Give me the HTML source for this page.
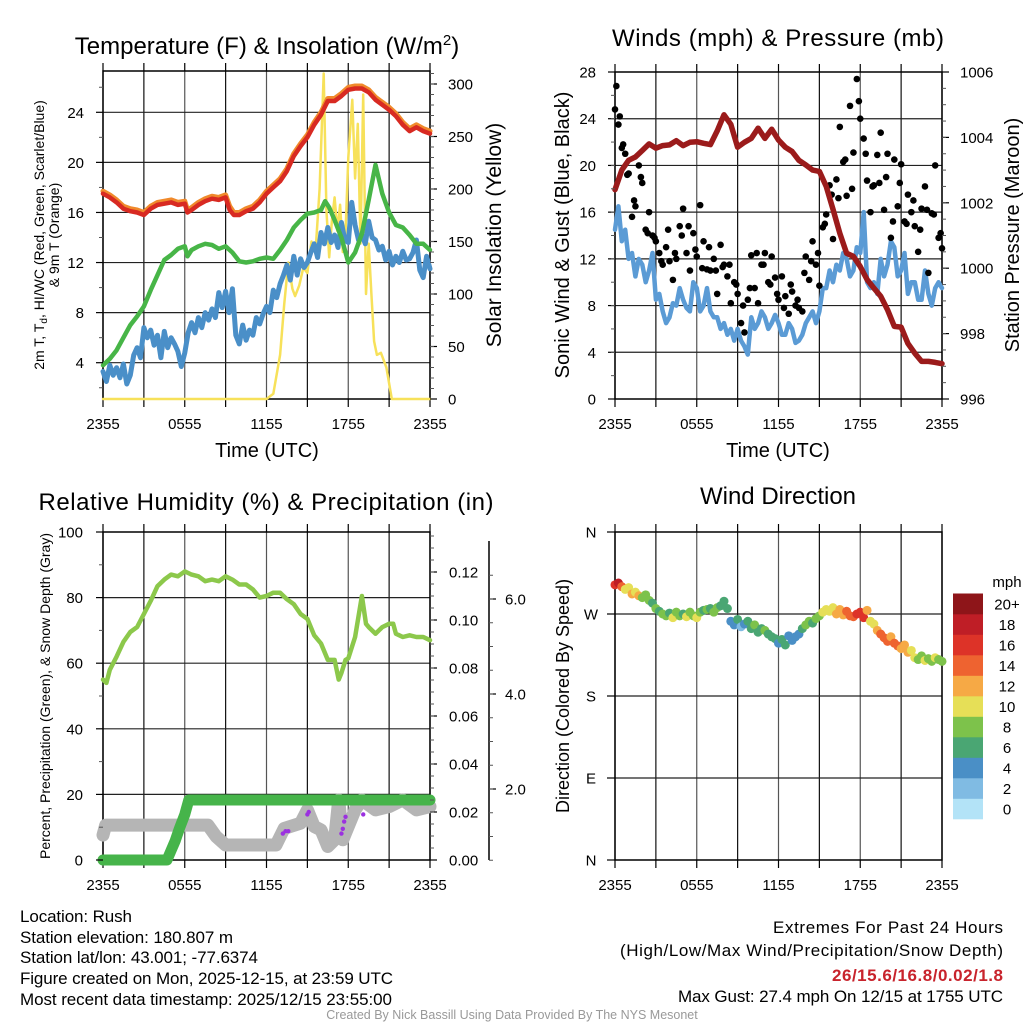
<!DOCTYPE html>
<html><head><meta charset="utf-8">
<style>
html,body{margin:0;padding:0;background:#fff;}
svg{display:block;font-family:"Liberation Sans",Arial,sans-serif;}
</style></head>
<body>
<svg id="fig" width="1024" height="1024" viewBox="0 0 1024 1024" xmlns="http://www.w3.org/2000/svg">
<rect width="1024" height="1024" fill="#fff"/>
<!-- Titles -->
<text x="267" y="54" font-size="24" text-anchor="middle">Temperature (F) &amp; Insolation (W/m<tspan dy="-9" font-size="15">2</tspan><tspan dy="9">)</tspan></text>
<text x="778" y="46" font-size="24" text-anchor="middle" textLength="332">Winds (mph) &amp; Pressure (mb)</text>
<text x="266" y="510" font-size="24" text-anchor="middle" textLength="455">Relative Humidity (%) &amp; Precipitation (in)</text>
<text x="778" y="504" font-size="24" text-anchor="middle">Wind Direction</text>
<!-- axis titles -->
<text transform="translate(44,235) rotate(-90)" font-size="14" text-anchor="middle">2m T, T<tspan dy="3" font-size="10">d</tspan><tspan dy="-3">, HI/WC (Red, Green, Scarlet/Blue)</tspan></text>
<text transform="translate(59,235) rotate(-90)" font-size="14" text-anchor="middle">&amp; 9m T (Orange)</text>
<text transform="translate(501,235) rotate(-90)" font-size="21" text-anchor="middle">Solar Insolation (Yellow)</text>
<text x="267" y="457" font-size="20" text-anchor="middle">Time (UTC)</text>
<text transform="translate(569,235) rotate(-90)" font-size="20" text-anchor="middle">Sonic Wind &amp; Gust (Blue, Black)</text>
<text transform="translate(1019,235) rotate(-90)" font-size="20" text-anchor="middle">Station Pressure (Maroon)</text>
<text x="778" y="457" font-size="20" text-anchor="middle">Time (UTC)</text>
<text transform="translate(50,696) rotate(-90)" font-size="14" text-anchor="middle">Percent, Precipitation (Green), &amp; Snow Depth (Gray)</text>
<text transform="translate(569,696) rotate(-90)" font-size="18" text-anchor="middle">Direction (Colored By Speed)</text>
<!-- info text -->
<g font-size="17">
<text x="20" y="922" textLength="112">Location: Rush</text>
<text x="20" y="943" textLength="213">Station elevation: 180.807 m</text>
<text x="20" y="963" textLength="238">Station lat/lon: 43.001; -77.6374</text>
<text x="20" y="984" textLength="373">Figure created on Mon, 2025-12-15, at 23:59 UTC</text>
<text x="20" y="1005" textLength="372">Most recent data timestamp: 2025/12/15 23:55:00</text>
</g>
<g font-size="17">
<text x="773" y="933" textLength="230">Extremes For Past 24 Hours</text>
<text x="620" y="956" textLength="383">(High/Low/Max Wind/Precipitation/Snow Depth)</text>
<text x="832" y="981" textLength="171" font-weight="bold" fill="#c8232c">26/15.6/16.8/0.02/1.8</text>
<text x="678" y="1002" textLength="325">Max Gust: 27.4 mph On 12/15 at 1755 UTC</text>
</g>
<text x="512" y="1019" font-size="12.5" fill="#999" text-anchor="middle">Created By Nick Bassill Using Data Provided By The NYS Mesonet</text>
<g id="plots"></g>
</svg>
<script>
// ---- Panel 1 data: temperature (hours since 2355) ----
const tempHours = [0,0.5,1,1.5,2,2.5,3,3.5,4,4.5,5,5.5,6,6.2,6.5,7,7.5,8,8.5,9,9.3,9.6,10,10.5,11,11.5,12,12.5,13,13.5,14,14.5,15,15.5,16,16.5,17,17.5,18,18.5,19,19.5,20,20.5,21,21.5,22,22.5,23,23.5,24];
const tempRed   = [17.5,17.2,16.8,16.3,16.1,16.0,15.8,16.3,16.6,16.7,16.8,16.6,16.7,16.0,16.2,16.6,16.9,17.1,17.0,17.2,16.2,15.8,15.8,16.1,16.3,16.8,17.5,18.0,18.5,19.3,20.5,21.3,22.0,23.0,23.8,24.9,24.9,25.3,25.8,25.9,25.9,25.6,25.0,24.6,24.2,23.7,23.0,22.5,22.8,22.5,22.3];
const tempOrange= [17.7,17.4,17.0,16.5,16.3,16.2,16.0,16.5,16.8,16.9,17.0,16.8,16.9,16.2,16.4,16.8,17.1,17.3,17.2,17.4,16.5,16.0,16.0,16.3,16.5,17.0,17.7,18.2,18.7,19.5,20.7,21.5,22.2,23.2,24.0,25.1,25.1,25.5,26.0,26.1,26.1,25.8,25.2,24.8,24.4,23.9,23.2,22.7,23.0,22.7,22.5];
const dewHours = [0,0.5,1,1.5,2,2.5,3,3.5,4,4.5,5,5.5,6,6.2,6.5,7,7.5,8,8.5,9,9.5,10,10.5,11,11.5,12,12.5,13,13.5,14,14.5,15,15.5,16,16.3,16.6,17,17.5,18,18.5,19,19.5,20,20.5,21,21.5,22,22.5,23,23.5,24];
const dewGreen = [3.8,4.3,5.0,6.0,7.0,7.7,8.5,9.8,11.0,12.2,12.6,13.1,13.3,12.5,13.0,13.3,13.5,13.4,13.1,13.3,12.8,12.1,12.0,12.1,12.3,12.4,12.3,13.0,13.8,14.8,15.4,15.9,16.0,16.2,16.9,16.4,15.4,14.0,12.0,12.8,14.3,17.0,19.8,17.5,16.0,15.0,14.8,14.2,13.5,13.5,13.0];
const blueHours = [0,0.25,0.5,0.75,1,1.25,1.5,1.75,2,2.25,2.5,2.75,3,3.25,3.5,3.75,4,4.25,4.5,4.75,5,5.25,5.5,5.75,6,6.25,6.5,6.75,7,7.25,7.5,7.75,8,8.25,8.5,8.75,9,9.25,9.5,9.75,10,10.25,10.5,10.75,11,11.25,11.5,11.75,12,12.25,12.5,12.75,13,13.25,13.5,13.75,14,14.25,14.5,14.75,15,15.25,15.5,15.75,16,16.25,16.5,16.75,17,17.25,17.5,17.75,18,18.25,18.5,18.75,19,19.25,19.5,19.75,20,20.25,20.5,20.75,21,21.25,21.5,21.75,22,22.25,22.5,22.75,23,23.25,23.5,23.75,24];
const blueTemp = [3.3,2.5,3.8,3.0,3.6,2.8,3.9,2.3,3.0,4.6,5.2,4.4,6.8,6.0,6.6,5.4,6.2,4.4,6.5,5.2,6.0,5.5,4.9,3.7,4.8,6.4,7.2,6.4,7.6,6.8,8.0,7.4,8.3,7.6,9.6,8.4,9.7,8.0,9.9,6.2,5.5,7.0,5.8,6.6,6.2,7.6,7.1,7.9,8.5,8.0,9.8,9.2,10.3,11.0,11.8,10.6,12.5,11.0,12.3,11.6,12.0,12.8,13.5,12.4,14.4,13.5,14.8,13.6,14.2,13.2,15.2,13.8,13.6,16.8,15.0,13.8,14.2,13.5,15.3,14.0,13.8,13.0,13.3,12.2,12.9,11.8,12.5,12.0,12.9,12.2,12.3,12.8,13.8,11.4,10.8,12.5,11.5,12.9,12.1];
const solarHours = [0,12,12.5,13,13.3,13.6,13.9,14.1,14.4,14.7,15.0,15.3,15.6,15.9,16.2,16.4,16.6,16.8,17.0,17.2,17.4,17.6,17.8,18.0,18.3,18.5,18.7,18.9,19.1,19.3,19.5,19.7,19.9,20.1,20.4,20.8,21.2,21.6,22.0,24];
const solarVals  = [0,0,5,42,90,130,105,98,108,125,120,150,140,200,310,180,135,170,192,160,185,140,158,230,285,210,262,148,290,100,148,100,55,42,44,30,0,0,0,0];
// ---- Panel 2 data: wind & pressure ----
const presHours = [0,0.5,1,1.5,2,2.5,3,3.5,4,4.5,5,5.5,6,6.5,7,7.5,8,8.5,9,9.5,10,10.5,11,11.5,12,12.5,13,13.5,14,14.5,15,15.5,16,16.5,17,17.5,18,18.5,19,19.5,20,20.5,21,21.5,22,22.5,23,23.5,24];
const presVals  = [1002.4,1003.0,1003.3,1003.4,1003.6,1003.8,1003.67,1003.75,1003.77,1003.9,1003.75,1003.85,1003.87,1003.82,1003.78,1004.2,1004.69,1004.4,1003.7,1003.85,1003.97,1004.28,1003.97,1004.25,1003.92,1003.7,1003.57,1003.3,1003.16,1003.0,1002.96,1002.5,1001.8,1001.07,1000.46,1000.36,1000.05,999.65,999.39,999.14,998.73,998.22,998.2,997.7,997.4,997.15,997.15,997.12,997.08];
const windHours = blueHours;
const windVals = [14.5,16.5,13.5,14.5,12.0,12.5,10.5,12.0,11.5,10.0,11.0,12.5,8.5,9.0,7.5,6.5,7.0,8.2,8.0,9.5,8.5,7.8,7.5,10.0,9.5,7.5,8.0,9.5,7.5,7.0,7.0,6.0,6.5,5.5,6.0,5.0,6.0,5.0,4.5,3.8,7.0,6.0,6.5,7.5,7.0,6.0,6.5,7.2,6.5,5.5,5.5,6.5,6.0,4.8,5.0,5.5,6.5,7.0,7.5,6.5,7.5,9.5,9.5,11.0,10.0,11.5,11.0,12.5,12.0,10.5,11.0,13.0,12.5,16.0,10.0,9.5,10.0,9.0,12.0,10.5,11.5,13.5,13.0,10.5,11.0,12.5,9.0,10.0,10.0,8.5,8.5,11.0,9.0,8.0,9.5,10.0,9.5];
const gustHours = blueHours;
const gustVals = [24.8,23.5,21.5,21.0,19.3,15.6,16.5,20.0,18.5,14.5,16.0,14.0,13.5,12.5,11.5,13.0,11.8,10.2,12.0,14.8,16.3,12.5,11.0,14.2,12.2,16.6,13.5,11.1,11.0,12.0,9.0,13.2,11.5,10.5,8.2,10.0,9.0,6.5,5.7,8.5,12.3,9.5,8.2,11.5,12.5,10.0,12.2,10.4,8.5,10.5,8.8,7.3,9.2,8.0,7.8,7.5,12.2,10.2,13.5,11.5,9.7,14.7,15.8,18.3,13.7,18.8,23.3,20.3,17.4,25.1,21.1,27.4,24.0,22.3,18.7,16.0,18.3,20.9,22.8,16.2,21.0,13.8,20.5,16.5,20.1,15.2,17.5,16.0,14.8,12.6,16.3,18.2,10.8,15.9,20.0,13.8,12.9];
const gustHours2 = [0.1,0.35,0.6,0.9,1.4,1.9,2.4,2.9,3.4,3.9,4.4,4.9,5.4,5.9,6.4,6.9,7.4,7.9,8.4,8.9,9.4,9.9,10.4,10.9,11.4,11.9,12.4,12.9,13.4,13.9,14.4,14.9,15.4,15.9,16.4,16.9,17.4,17.9,18.4,18.9,19.4,19.9,20.4,20.9,21.4,21.9,22.4,22.9,23.4,23.9];
const gustVals2  = [26.8,24.2,21.8,19.2,17.0,19.0,14.2,13.8,11.8,14.5,12.5,14.0,14.8,12.8,11.2,13.0,11.0,11.3,11.5,9.8,8.0,9.5,12.5,11.5,9.8,9.0,7.8,9.8,8.5,10.8,11.8,12.5,15.0,17.5,17.2,20.5,18.0,25.5,21.0,18.2,18.5,19.0,15.2,18.5,15.0,17.0,14.5,16.2,15.8,14.2];
// ---- Panel 3 data: humidity, precip, snow ----
const rhHours = [0,0.25,0.5,1,1.5,2,2.5,3,3.5,4,4.5,5,5.5,6,6.5,7,7.5,8,8.5,9,9.5,10,10.5,11,11.5,12,12.5,13,13.5,14,14.5,15,15.5,16,16.5,17,17.3,17.5,17.8,18,18.5,19,19.3,19.5,20,20.5,21,21.3,21.5,22,22.5,23,23.5,24];
const rhVals  = [55,54,58,62,66.5,69.5,71,75,79,83.5,85.5,87,86.5,88,87,86.5,85,85.5,85,86.5,85.5,84,84,82.5,80,80.5,81.5,81.5,79.5,78,75,73.5,68.5,66,61,61,55,57,61,61.5,68,80.5,72,71,69,71,72,72,69,68,68.5,68,68,67];
const precipHours = [0,4.7,5.0,5.3,5.6,6.0,6.3,24];
const precipVals  = [0,0,0.004,0.008,0.013,0.019,0.025,0.025];
const snowHours = [0,0.2,0.5,7.7,8.3,9.0,10,12.7,13.3,14.5,15.0,15.5,16.0,16.5,17.0,17.3,17.6,18.5,19.0,20.0,21.0,22.0,23.0,24];
const snowVals  = [1.03,1.24,1.24,1.24,1.0,0.82,0.82,0.82,1.17,1.28,1.56,1.21,1.14,0.79,0.93,1.77,0.93,1.56,1.77,1.56,1.63,1.77,1.56,1.63];
const purpleHours = [13.2,13.4,13.6,15.0,15.1,17.5,17.6,17.7,17.8,19.1];
const purpleVals  = [0.011,0.012,0.012,0.019,0.020,0.011,0.013,0.016,0.018,0.019];
// ---- Panel 4 data: wind direction (degrees) & speed (mph), every 15 min ----
const dirDeg = [302,304,300,297,299,292,294,290,288,291,285,282,276,273,270,268,271,266,272,268,270,267,272,268,266,272,274,275,276,272,277,279,284,276,262,258,264,256,259,262,254,258,250,254,252,248,245,243,238,242,236,246,241,245,248,254,258,262,260,265,268,272,275,273,277,270,275,269,273,268,267,270,272,266,274,262,259,252,248,244,240,245,238,235,232,236,228,230,222,220,224,219,221,218,222,220,218];
const dirSpeed = [17,18,15,11,10,12,10,12,8,8,8,7,8,6,8,8,7,10,8,8,7,10,8,9,10,8,7,8,6,8,8,7,6,6,4,4,6,3,4,6,6,8,6,7,8,6,6,6,5,6,6,4,4,4,5,6,8,8,7,8,9,10,10,11,10,12,13,12,14,15,14,16,17,16,13,10,11,13,14,15,14,12,14,15,12,13,12,11,10,8,9,11,8,8,10,8,8];
const speedBins = ['0','2','4','6','8','10','12','14','16','18','20+'];
const speedColors = ['#b3e3f7','#80bbe3','#4a8fc6','#4aa673','#7dc24b','#e6df57','#f6a945','#ee6330','#dd3328','#bf1e26','#8e1519'];

const NS='http://www.w3.org/2000/svg';
const root=document.getElementById('plots');
function mk(tag,parent){const e=document.createElementNS(NS,tag);(parent||root).appendChild(e);return e;}
function sa(e,o){for(const k in o)e.setAttribute(k,o[k]);return e;}

const P1={l:103,r:430,t:71,b:399}, P2={l:615,r:942,t:72,b:399}, P3={l:103,r:430,t:532,b:860}, P4={l:615,r:942,t:532,b:860};
const xs=(P,h)=>P.l+(P.r-P.l)*h/24;
const y1L=v=>362.7-(v-4)*12.52, y1R=v=>399-v*1.05;
const y2L=v=>399-v*327/28, y2R=v=>399-(v-996)*32.7;
const y3L=v=>860-v*3.28, y3P=v=>860-v*2400, y3S=v=>884-v*47.5;
const y4=d=>532+(360-d)*328/360;

function grid(P,hy,name){
  const g=mk('g');
  
  
  for(let i=0;i<=8;i++){const x=P.l+(P.r-P.l)*i/8;
    const l=mk('line',g);sa(l,{x1:x,x2:x,y1:P.t,y2:P.b,stroke:(i%2?'#111':'#555'),'stroke-width':1.2});
    
    
    const t=mk('line',g);sa(t,{x1:x,x2:x,y1:P.b,y2:P.b+8,stroke:'#000','stroke-width':1.2});
    
    
    const t2=mk('line',g);sa(t2,{x1:x,x2:x,y1:P.t-8,y2:P.t,stroke:'#000','stroke-width':1.2});
    
    }
  hy.forEach(y=>{const l=mk('line',g);sa(l,{x1:P.l,x2:P.r,y1:y,y2:y,stroke:'#222','stroke-width':1.2});
    
    });
  const b=mk('rect',g);sa(b,{x:P.l,y:P.t,width:P.r-P.l,height:P.b-P.t,fill:'none',stroke:'#000','stroke-width':1.5});
  
  
  const labs=['2355','0555','1155','1755','2355'];
  labs.forEach((s,i)=>{const t=mk('text',g);sa(t,{x:P.l+(P.r-P.l)*i/4,y:P.b+30,'font-size':15,'text-anchor':'middle'});t.textContent=s;
    
    });
}
function yaxis(x,vals,fy,side,labelX,fmt,minor,name,len){
  const g=mk('g');
  
  
  const dir=side==='left'?-1:1;
  vals.forEach(v=>{const y=fy(v);const l=mk('line',g);sa(l,{x1:x,x2:x+dir*(len||7),y1:y,y2:y,stroke:'#000','stroke-width':1.2});
    
    
    const t=mk('text',g);sa(t,{x:labelX,y:y+5.5,'font-size':15,'text-anchor':side==='left'?'end':'start'});t.textContent=fmt(v);
    
    });
  minor.forEach(v=>{const y=fy(v);const l=mk('line',g);sa(l,{x1:x,x2:x+dir*4,y1:y,y2:y,stroke:'#555','stroke-width':1});
    
    });
}
function range(a,b,s){const r=[];for(let v=a;v<=b+1e-9;v+=s)r.push(+v.toFixed(4));return r;}
function line(P,hs,vs,fy,color,w,name,cap){
  const pts=hs.map((h,i)=>xs(P,h).toFixed(1)+','+fy(vs[i]).toFixed(1)).join(' ');
  const p=mk('polyline');sa(p,{points:pts,fill:'none',stroke:color,'stroke-width':w,'stroke-linejoin':'round','stroke-linecap':cap||'round'});
  
  
  return p;
}

// Panel 1
grid(P1,[4,8,12,16,20,24].map(y1L),'temperature-panel');
line(P1,solarHours,solarVals,y1R,'#f7e15a',2.5,'solar-insolation-line');
line(P1,blueHours,blueTemp,y1L,'#4a8fc8',5,'wind-chill-line');
line(P1,dewHours,dewGreen,y1L,'#47b547',4.5,'dewpoint-line');
line(P1,tempHours,tempOrange,y1L,'#f08a2c',5,'temp-9m-line');
line(P1,tempHours,tempRed,y1L,'#d82a22',4.5,'temp-2m-line');
yaxis(P1.l,[4,8,12,16,20,24],y1L,'left',84,v=>v,[2,6,10,14,18,22,26],'temperature-y-axis');
yaxis(P1.r,range(0,300,50),y1R,'right',448,v=>v,range(10,310,10),'insolation-y-axis');

// Panel 2
grid(P2,[4,8,12,16,20,24].map(y2L),'wind-panel');
line(P2,windHours,windVals,y2L,'#5b9bd5',4.5,'sonic-wind-line');
const gg=mk('g');


[[gustHours,gustVals],[gustHours2,gustVals2]].forEach(([hs,vs])=>hs.forEach((h,i)=>{
  const c=mk('circle',gg);sa(c,{cx:xs(P2,h),cy:y2L(vs[i]),r:3.3,fill:'#000'});
  
  }));
line(P2,presHours,presVals,y2R,'#9b1b1b',5.5,'station-pressure-line');
yaxis(P2.l,range(0,28,4),y2L,'left',596,v=>v,range(2,26,2),'wind-y-axis');
yaxis(P2.r,range(996,1006,2),y2R,'right',960,v=>v,range(996.5,1005.5,0.5),'pressure-y-axis');

// Panel 3
grid(P3,[20,40,60,80].map(y3L),'humidity-panel');
line(P3,snowHours,snowVals,y3S,'#b5b5b5',13,'snow-depth-line');
const pg=mk('g');


purpleHours.forEach((h,i)=>{const c=mk('circle',pg);sa(c,{cx:xs(P3,h),cy:y3P(purpleVals[i]),r:2.2,fill:'#9b30e0'});
  
  });
line(P3,precipHours,precipVals,y3P,'#46b44a',11,'precipitation-line');
line(P3,rhHours,rhVals,y3L,'#8cc84b',4.5,'relative-humidity-line');
yaxis(P3.l,range(0,100,20),y3L,'left',83,v=>v,range(10,90,20),'humidity-y-axis');
yaxis(P3.r,range(0,0.12,0.02),y3P,'right',449,v=>v.toFixed(2),range(0.005,0.135,0.005),'precip-y-axis');
const ax3=mk('line');sa(ax3,{x1:489,x2:489,y1:541,y2:860,stroke:'#000','stroke-width':1.5});


yaxis(489,[2,4,6],y3S,'right',505,v=>v.toFixed(1),range(0.5,6.5,0.5),'snow-depth-y-axis');

// Panel 4
grid(P4,[270,180,90].map(y4),'direction-panel');
const dg=mk('g');


dirDeg.forEach((d,i)=>{const h=i*0.25;const bin=Math.min(10,Math.floor(dirSpeed[i]/2));
  const c=mk('circle',dg);sa(c,{cx:xs(P4,h),cy:y4(d),r:4.5,fill:speedColors[bin]});
  
  });
['N','W','S','E','N'].forEach((s,i)=>{const y=532+82*i;
  const l=mk('line');sa(l,{x1:P4.l-8,x2:P4.l,y1:y,y2:y,stroke:'#000','stroke-width':1.2});
  
  
  const t=mk('text');sa(t,{x:591,y:y+5.5,'font-size':15,'text-anchor':'middle'});t.textContent=s;
  
  });
// colorbar
const cb=mk('g');


speedBins.forEach((lab,i)=>{const y=819-(i+1)*20.5;
  const r=mk('rect',cb);sa(r,{x:953,y:y,width:30,height:20.8,fill:speedColors[i]});
  
  
  const t=mk('text',cb);sa(t,{x:1007,y:y+16,'font-size':15,'text-anchor':'middle'});t.textContent=lab;
  
  });
const mph=mk('text',cb);sa(mph,{x:1007,y:587,'font-size':15,'text-anchor':'middle'});mph.textContent='mph';


</script>
</body></html>
